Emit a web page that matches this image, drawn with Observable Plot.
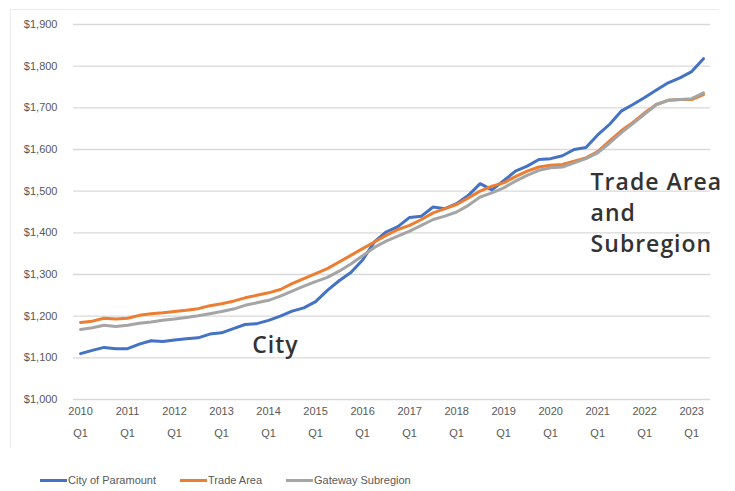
<!DOCTYPE html>
<html>
<head>
<meta charset="utf-8">
<script src="https://cdn.jsdelivr.net/npm/d3@7"></script>
<script src="https://cdn.jsdelivr.net/npm/@observablehq/plot@0.6"></script>
<style>
  html, body { margin: 0; padding: 0; background: #fff; }
  #wrap { position: relative; width: 735px; height: 491px; overflow: hidden; }
  #frame { position: absolute; left: 10px; top: 9px; width: 708px; height: 438px; border: 1px solid #ececec; border-right: none; border-bottom: none; }
  #chart { position: absolute; left: 0; top: 0; }
  #legend { position: absolute; left: 40px; top: 474px; font-family: "Liberation Sans Narrow", "Liberation Sans", Arial, sans-serif; font-size: 11px; color: #595959; display: flex; gap: 0; }
  .item { display: flex; align-items: center; margin-right: 24px; }
  .sw { width: 27px; height: 3px; margin-right: 1px; }
</style>
</head>
<body>
<div id="wrap">
  <div id="frame"></div>
  <div id="chart"></div>
  <div id="legend"></div>
</div>
<script>
// Quarters from 2010 Q1 to 2023 Q2 (index 0..53)
const seriesNames = ["City of Paramount", "Trade Area", "Gateway Subregion"];
const seriesColors = ["#4472C4", "#ED7D31", "#A5A5A5"];

const cityValues = [
  1110, 1118, 1125, 1122, 1122, 1133, 1141, 1139, 1143, 1146,
  1148, 1157, 1160, 1170, 1180, 1182, 1190, 1200, 1212, 1220,
  1235, 1262, 1285, 1305, 1335, 1378, 1402, 1415, 1437, 1440,
  1462, 1458, 1470, 1490, 1518, 1503, 1525, 1548, 1560, 1576,
  1578, 1585, 1600, 1605, 1635, 1660, 1692, 1708, 1725, 1743,
  1760, 1772, 1787, 1818
];
const tradeValues = [
  1185, 1188, 1195, 1193, 1195, 1202, 1206, 1208, 1211, 1214,
  1218, 1225, 1230, 1236, 1244, 1250, 1256, 1264, 1278, 1290,
  1302, 1314, 1330, 1346, 1362, 1378, 1394, 1408, 1418, 1432,
  1448, 1458, 1468, 1484, 1500, 1512, 1520, 1535, 1548, 1558,
  1562, 1564, 1572, 1580, 1595, 1620, 1645, 1665, 1688, 1708,
  1718, 1720, 1720, 1732
];
const gatewayValues = [
  1168, 1172, 1178, 1175, 1178, 1183, 1186, 1190, 1193, 1197,
  1201, 1206, 1211, 1217, 1226, 1232, 1238, 1248, 1260, 1272,
  1283, 1293, 1308, 1325, 1345, 1365, 1380, 1392, 1404, 1418,
  1432, 1440, 1450, 1466, 1486, 1496, 1508, 1524, 1538, 1550,
  1556, 1558, 1568, 1578, 1592, 1615, 1640, 1662, 1685, 1708,
  1718, 1720, 1722, 1736
];
const yTicks = [1000, 1100, 1200, 1300, 1400, 1500, 1600, 1700, 1800, 1900];
const xTickIdx = [0, 4, 8, 12, 16, 20, 24, 28, 32, 36, 40, 44, 48, 52];
const xTickYears = ["2010","2011","2012","2013","2014","2015","2016","2017","2018","2019","2020","2021","2022","2023"];
const xTickQuarter = "Q1";

// annotations anchored in data coordinates (quarter index, value)
const annotations = [
  {label: "City", q: 14.6, v: 1135},
  {label: "Trade Area\nand\nSubregion", q: 43.4, v: 1452}
];

const allSeries = [cityValues, tradeValues, gatewayValues];
const rows = [];
allSeries.forEach((vals, s) => vals.forEach((v, i) => rows.push({series: seriesNames[s], i, v})));

const fmt = d3.format(",");
const axisFont = `"Liberation Sans Narrow", "Liberation Sans", Arial, sans-serif`;

const chart = Plot.plot({
  width: 735,
  height: 460,
  marginLeft: 73,
  marginRight: 25,
  marginTop: 24,
  marginBottom: 61,
  style: {background: "transparent", color: "#595959", fontFamily: axisFont, fontSize: "11px"},
  x: {domain: [-0.6, 53.6], axis: null},
  y: {domain: [1000, 1900], axis: null},
  color: {domain: seriesNames, range: seriesColors},
  marks: [
    Plot.gridY(yTicks, {stroke: "#d9d9d9", strokeOpacity: 1, strokeWidth: 1.3}),
    Plot.axisY(yTicks, {label: null, tickSize: 0, tickPadding: 16, tickFormat: d => "$" + fmt(d), fontSize: 11}),
    Plot.axisX(xTickIdx, {label: null, tickSize: 0, tickPadding: 8, tickFormat: (d, k) => xTickYears[k], fontSize: 11}),
    Plot.axisX(xTickIdx, {label: null, tickSize: 0, tickPadding: 30, tickFormat: () => xTickQuarter, fontSize: 11}),
    Plot.lineY(rows, {x: "i", y: "v", z: "series", stroke: "series", strokeWidth: 3, strokeLinejoin: "round"}),
    Plot.text(annotations, {
      x: "q", y: "v", text: "label", textAnchor: "start", lineAnchor: "middle",
      fontSize: 23, fontWeight: 600, lineHeight: 1.36, fill: "#333333",
      fontFamily: "'Open Sans', 'Noto Sans', sans-serif"
    })
  ]
});
chart.querySelectorAll("text").forEach(t => {
  if (t.getAttribute("font-size") === "23" || (t.parentNode && t.parentNode.getAttribute && t.parentNode.getAttribute("font-size") === "23")) t.style.letterSpacing = "1px";
});
document.getElementById("chart").appendChild(chart);

const legend = document.getElementById("legend");
seriesNames.forEach((name, k) => {
  const it = document.createElement("div");
  it.className = "item";
  const sw = document.createElement("span");
  sw.className = "sw";
  sw.style.background = seriesColors[k];
  const lb = document.createElement("span");
  lb.textContent = name;
  it.appendChild(sw); it.appendChild(lb);
  legend.appendChild(it);
});
</script>
</body>
</html>
